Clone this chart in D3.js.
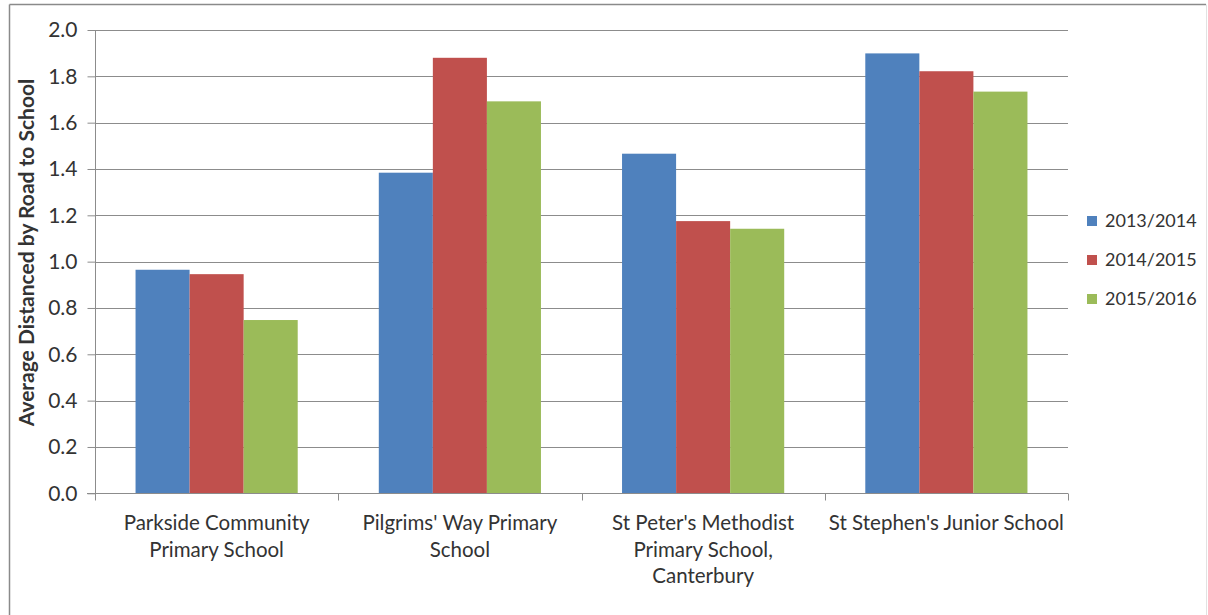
<!DOCTYPE html>
<html><head><meta charset="utf-8">
<script src="https://cdn.jsdelivr.net/npm/d3@7"></script>
<style>
html,body{margin:0;padding:0;background:#fff;}
text{font-family:Lato,"Open Sans",sans-serif;fill:#333;}
</style></head>
<body>
<svg id="chart" width="1208" height="615"></svg>
<script>
const categories = [
  ["Parkside Community", "Primary School"],
  ["Pilgrims' Way Primary", "School"],
  ["St Peter's Methodist", "Primary School,", "Canterbury"],
  ["St Stephen's Junior School"]
];
const seriesNames = ["2013/2014", "2014/2015", "2015/2016"];
const values2013 = [0.965, 1.384, 1.466, 1.899];
const values2014 = [0.946, 1.880, 1.175, 1.822];
const values2015 = [0.748, 1.692, 1.142, 1.734];
const yTicks = [0, 0.2, 0.4, 0.6, 0.8, 1.0, 1.2, 1.4, 1.6, 1.8, 2.0];
const yTitle = "Average Distanced by Road to School";
const colors = ["#4F81BD", "#C0504D", "#9BBB59"];

const seriesValues = [values2013, values2014, values2015];
const svg = d3.select("#chart");

// frame
svg.append("line").attr("x1",9.5).attr("x2",9.5).attr("y1",4.5).attr("y2",615).attr("stroke","#8a8a8a").attr("stroke-width",1.5);
svg.append("line").attr("x1",9.5).attr("x2",1206).attr("y1",4.5).attr("y2",4.5).attr("stroke","#8a8a8a").attr("stroke-width",1.5);
svg.append("line").attr("x1",1206.5).attr("x2",1206.5).attr("y1",4.5).attr("y2",615).attr("stroke","#e2e2e2").attr("stroke-width",1);

const pLeft = 95, pRight = 1068, pTop = 30, pBottom = 493.3;
const catIdx = categories.map((c,i)=>i);
const x0 = d3.scaleBand().domain(catIdx).range([pLeft, pRight]).padding(0);
const x1 = d3.scaleBand().domain(seriesNames).range([0, x0.bandwidth()]).paddingInner(0).paddingOuter(0.75);
const y = d3.scaleLinear().domain([0, 2]).range([pBottom, pTop]);

// gridlines
svg.append("g").selectAll("line").data(yTicks.filter(t=>t>0)).join("line")
  .attr("x1", pLeft).attr("x2", pRight)
  .attr("y1", d=>Math.round(y(d))+0.5).attr("y2", d=>Math.round(y(d))+0.5)
  .attr("stroke","#8c8c8c").attr("stroke-width",1);

// bars
const rows = [];
catIdx.forEach(ci => seriesNames.forEach((s,si) => rows.push({ci, s, si, v: seriesValues[si][ci]})));
svg.append("g").selectAll("rect").data(rows).join("rect")
  .attr("x", d => x0(d.ci) + x1(d.s))
  .attr("width", x1.bandwidth())
  .attr("y", d => y(d.v))
  .attr("height", d => y(0) - y(d.v))
  .attr("fill", d => colors[d.si]);

// y axis
const yAxis = d3.axisLeft(y).tickValues(yTicks).tickFormat(d3.format(".1f")).tickSize(8).tickPadding(10);
const gy = svg.append("g").attr("transform", `translate(${pLeft+0.5},0)`).call(yAxis);
gy.select(".domain").attr("stroke","#8c8c8c").attr("d", `M0,${pTop}V${pBottom}`);
gy.selectAll(".tick line").attr("stroke","#8c8c8c");
gy.selectAll(".tick text").attr("font-size", 21).attr("font-family","Lato").attr("fill","#333");

// x axis
const gx = svg.append("g").attr("transform", `translate(0,${Math.round(pBottom)+0.5})`);
gx.append("line").attr("x1", pLeft-8).attr("x2", pRight).attr("stroke","#8c8c8c");
gx.selectAll(".xt").data(d3.range(categories.length+1)).join("line").attr("class","xt")
  .attr("x1", i => Math.round(pLeft + i*x0.step())+0.5)
  .attr("x2", i => Math.round(pLeft + i*x0.step())+0.5)
  .attr("y1", 0).attr("y2", 7).attr("stroke","#8c8c8c");
categories.forEach((lines, ci) => {
  const t = svg.append("text").attr("text-anchor","middle").attr("font-size",20.5)
    .attr("x", x0(ci) + x0.bandwidth()/2).attr("y", 530);
  lines.forEach((ln, li) => t.append("tspan").attr("x", x0(ci) + x0.bandwidth()/2).attr("dy", li===0?0:26.5).text(ln));
});

// y title
svg.append("text").attr("transform", `translate(34,${(80+425)/2}) rotate(-90)`)
  .attr("text-anchor","middle").attr("font-weight","bold").attr("font-size",21).attr("fill","#111")
  .text(yTitle);

// legend
const lg = svg.append("g");
seriesNames.forEach((s,i) => {
  const cy = 221 + i*39;
  lg.append("rect").attr("x",1087).attr("y",cy-5).attr("width",10).attr("height",10).attr("fill",colors[i]);
  lg.append("text").attr("x",1105).attr("y",cy).attr("dy","0.35em").attr("font-size",18).text(s);
});
</script>
</body></html>
